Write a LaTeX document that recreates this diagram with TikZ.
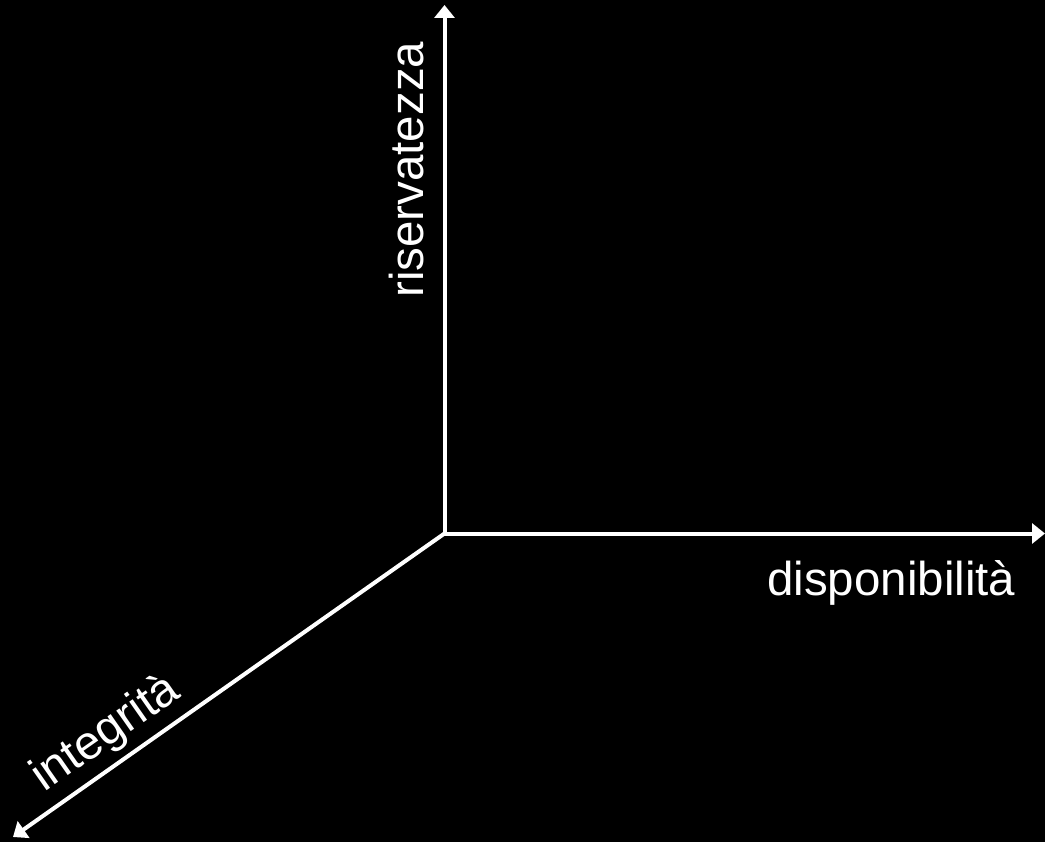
\documentclass[tikz,border=0pt]{standalone}
\usepackage{fontspec}
\setmainfont{Liberation Sans}
\usetikzlibrary{arrows.meta}
\begin{document}
\begin{tikzpicture}[x=1pt,y=-1pt,
  axis/.style={draw=white,line width=4pt,-{Triangle[length=13pt,width=20pt]}},
  lbl/.style={text=white,font=\fontsize{47.5}{52}\selectfont,inner sep=0pt}]
\fill[black] (0,0) rectangle (1045,842);
\useasboundingbox (0,0) rectangle (1045,842);
\coordinate (o) at (444.5,533.5);
\coordinate (up) at (444.5,5);
\coordinate (right) at (1045,533.5);
\coordinate (diag) at (13,837);
\draw[axis] (o) -- (up);
\draw[axis] (o) -- (right);
\draw[axis] (o) -- (diag);
\node[lbl,anchor=base west] (disp) at (767,595) {disponibilità};
\node[lbl,anchor=base west,rotate=90] (ris) at (423,298) {riservatezza};
\node[lbl,anchor=base west,rotate=35] (integ) at (44,793) {integrità};
\end{tikzpicture}
\end{document}
